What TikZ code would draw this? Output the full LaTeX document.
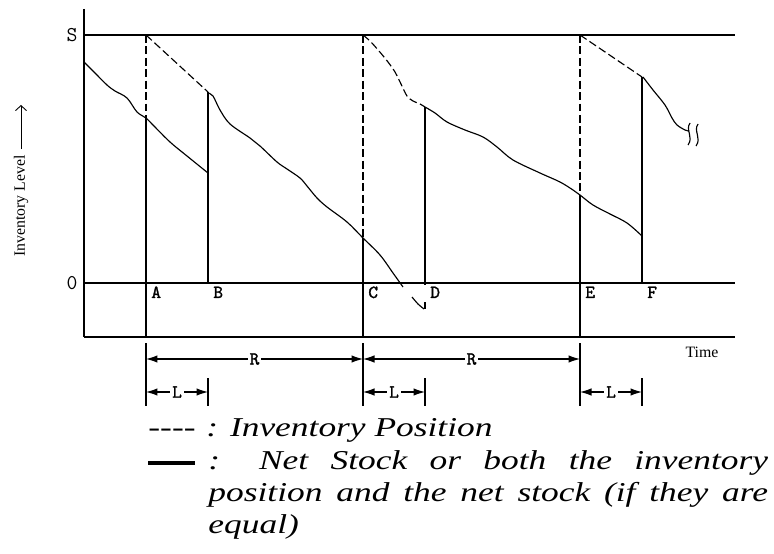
\documentclass[tikz,border=0pt]{standalone}
\usepackage{fontspec}
\setmainfont{Liberation Serif}
\newfontfamily\evfont{Latin Modern Mono}[FakeBold=1.5]
\usetikzlibrary{arrows.meta,calc}

\tikzset{
  axisline/.style={line width=0.75pt},
  curve/.style={line width=0.65pt},
  ipos/.style={line width=0.65pt,dash pattern=on 4.5pt off 2pt},
  axislabel/.style={font=\ttfamily\fontsize{12}{12}\selectfont,inner sep=0pt},
  evlabel/.style={font=\evfont\bfseries\fontsize{10.5}{10.5}\selectfont,inner sep=0pt,anchor=base west},
  dimline/.style={line width=0.6pt,{Latex[length=2.3mm,width=1.5mm]}-{Latex[length=2.3mm,width=1.5mm]}},
  dimlabel/.style={font=\evfont\bfseries\fontsize{10.5}{10.5}\selectfont,fill=white,inner sep=1pt},
  legtext/.style={font={\itshape\fontsize{15.5}{18.2}\selectfont\hyphenpenalty10000\relax},xscale=1.3,transform shape,inner sep=0pt}
}

\begin{document}
\begin{tikzpicture}[x=0.02cm,y=-0.02cm]
\useasboundingbox (0,0) rectangle (774,554);
% frame and levels
\draw[axisline] (84,9) -- (84,337);
\draw[axisline] (84,35) -- (735,35);
\draw[axisline] (84,283) -- (735,283);
\draw[axisline] (84,337) -- (735,337);
\node[axislabel] (lvS) at (72,35) {S};
\node[axislabel] (lv0) at (72,283) {0};
\node[font=\fontsize{9}{9}\selectfont,rotate=90] (ylabel) at (21,206) {Inventory Level};
\coordinate (ytip) at (21,105);
\draw[-{Straight Barb[length=1mm,width=2.2mm]},line width=0.5pt] (ylabel.east) -- (ylabel.east |- ytip);
\node[font=\fontsize{9}{9}\selectfont] (tlabel) at (702,352) {Time};

% review and arrival points
\foreach \ev/\xx in {A/146,B/208,C/363,D/425,E/580,F/642} {
  \coordinate (\ev) at (\xx,283);
  \node[evlabel] (lab\ev) at ([xshift=0.1cm,yshift=-0.3cm]\ev) {\ev};
}

% vertical jumps
\draw[ipos] (146,35) -- (146,118);
\draw[curve] (146,118) -- (146,337);
\draw[curve] (208,92) -- (208,283);
\draw[ipos] (363,35) -- (363,238);
\draw[curve] (363,238) -- (363,337);
\draw[curve] (425,107) -- (425,285);
\draw[curve] (425,302) -- (425,309);
\draw[ipos] (580,35) -- (580,195);
\draw[curve] (580,195) -- (580,337);
\draw[curve] (642,77) -- (642,283);

% net stock
\draw[curve] plot[smooth,tension=0.55] coordinates {(84,62) (95,73) (107,85) (115,91) (127,98) (137,112) (146,118) (153,125) (170,142) (187,156) (208,173)};
\draw[curve] plot[smooth,tension=0.55] coordinates {(208,93) (213,96) (220,110) (230,124) (250,138) (260,146) (277,162) (287,169) (300,178) (307,186) (317,198) (327,207) (347,222) (363,238) (380,255) (393,273) (403,287)};
\draw[curve] plot[smooth] coordinates {(412,297) (418,304) (424,309)};
\draw[curve] plot[smooth,tension=0.55] coordinates {(425,107) (435,113) (447,122) (465,130) (483,137) (497,147) (513,160) (540,173) (560,182) (573,190) (580,195) (593,205) (610,214) (627,223) (642,236)};
\draw[curve] plot[smooth,tension=0.55] coordinates {(643,77) (653,90) (665,105) (672,118) (677,125) (685,130) (689,131)};
\draw[curve] (690,123) .. controls (685,130) and (694,137) .. (688,145);
\draw[curve] (698,124) .. controls (693,131) and (702,138) .. (696,146);

% inventory position
\draw[ipos] (146,35) -- (208,92);
\draw[ipos] plot[smooth] coordinates {(363,35) (370,41) (379,51) (388,62) (395,72) (401,84) (407,96) (413,101) (420,104) (425,107)};
\draw[ipos] (580,35) -- (642,77);

% R and L spans
\foreach \ev in {A,C,E} \draw[curve] ($(\ev)+(0,60)$) -- ($(\ev)+(0,123)$);
\foreach \ev in {B,D,F} \draw[curve] ($(\ev)+(0,95)$) -- ($(\ev)+(0,123)$);
\draw[dimline] ($(A)+(0,76)$) -- ($(C)+(0,76)$) node[dimlabel,midway] (rAC) {R};
\draw[dimline] ($(C)+(0,76)$) -- ($(E)+(0,76)$) node[dimlabel,midway] (rCE) {R};
\draw[dimline] ($(A)+(0,109)$) -- ($(B)+(0,109)$) node[dimlabel,midway] (lAB) {L};
\draw[dimline] ($(C)+(0,109)$) -- ($(D)+(0,109)$) node[dimlabel,midway] (lCD) {L};
\draw[dimline] ($(E)+(0,109)$) -- ($(F)+(0,109)$) node[dimlabel,midway] (lEF) {L};

% legend
\node[legtext,anchor=base west] (ipdash) at (148,436) {{-}{-}{-}{-}};
\node[legtext,anchor=base west] (iptext) at (206,436) {: Inventory Position};
\draw[line width=1.8pt] (148,463) -- (195,463);
\node[legtext,anchor=north west,text width=245pt,align=justify] (nstext) at (208,450)
  {: Net Stock or both the inventory position and the net stock (if they are equal)};
\end{tikzpicture}
\end{document}
